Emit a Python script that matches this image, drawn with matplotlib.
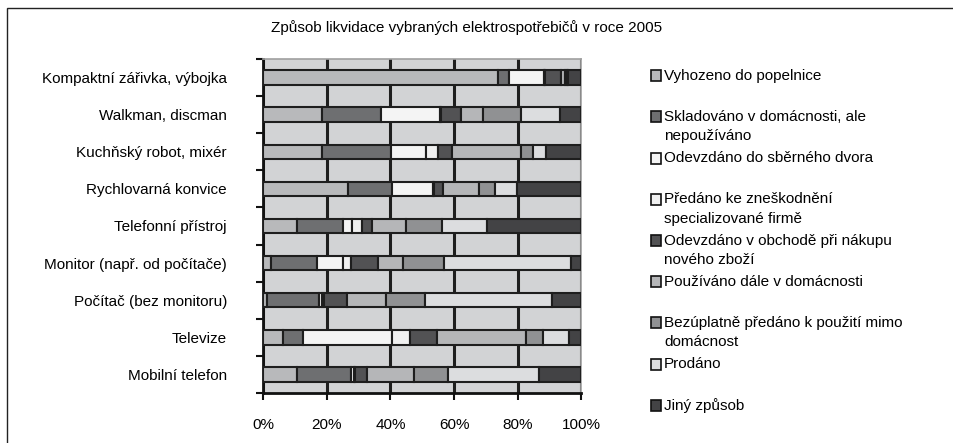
import numpy as np
import matplotlib
matplotlib.use('Agg')
import matplotlib.pyplot as plt
from matplotlib.patches import Rectangle

plt.rcParams['font.family'] = ['Liberation Sans', 'DejaVu Sans']

# ------------------------------------------------------------------
# Data (percent of households per appliance)
# ------------------------------------------------------------------
kategorie = ['Kompaktní zářivka, výbojka', 'Walkman, discman', 'Kuchňský robot, mixér',
             'Rychlovarná konvice', 'Telefonní přístroj', 'Monitor (např. od počítače)',
             'Počítač (bez monitoru)', 'Televize', 'Mobilní telefon']

serie = ['Vyhozeno do popelnice',
         'Skladováno v domácnosti, ale\nnepoužíváno',
         'Odevzdáno do sběrného dvora',
         'Předáno ke zneškodnění\nspecializované firmě',
         'Odevzdáno v obchodě při nákupu\nnového zboží',
         'Používáno dále v domácnosti',
         'Bezúplatně předáno k použití mimo\ndomácnost',
         'Prodáno',
         'Jiný způsob']

vyhozeno    = [73.8, 18.5, 18.5, 26.8, 10.6, 2.6, 1.4, 6.4, 10.6]
skladovano  = [3.4, 18.7, 21.7, 13.7, 14.4, 14.5, 16.2, 6.3, 17.0]
sberny_dvur = [10.9, 18.5, 11.0, 13.0, 3.1, 8.1, 1.0, 27.7, 1.0]
zneskodneni = [0.3, 0.3, 3.7, 0.3, 2.9, 2.4, 0.6, 5.6, 0.4]
obchod      = [5.3, 6.2, 4.5, 2.6, 3.1, 8.4, 7.3, 8.7, 3.5]
pouzivano   = [1.0, 6.8, 21.7, 11.3, 10.9, 7.9, 12.1, 28.0, 14.8]
bezuplatne  = [0.8, 12.1, 3.7, 5.0, 11.2, 12.9, 12.3, 5.2, 10.7]
prodano     = [0.3, 12.1, 3.9, 7.0, 14.1, 39.8, 39.8, 8.1, 28.7]
jiny        = [4.2, 6.8, 11.3, 20.3, 29.7, 3.4, 9.3, 4.0, 13.3]

hodnoty = [vyhozeno, skladovano, sberny_dvur, zneskodneni, obchod,
           pouzivano, bezuplatne, prodano, jiny]
barvy = ['#b8b9bb', '#6e6f71', '#f4f4f4', '#f0f0f0', '#525254',
         '#b5b6b8', '#909193', '#dcdddf', '#434345']

# ------------------------------------------------------------------
# Figure
# ------------------------------------------------------------------
W, H = 954, 443
fig = plt.figure(figsize=(W / 100, H / 100), dpi=100)
fig.patch.set_facecolor('white')

# outer chart border (top and left visible)
fig.add_artist(Rectangle((7.5 / W, -0.05), 1.1, 1.05 - 7.7 / H, transform=fig.transFigure,
                         fill=False, edgecolor='#222222', linewidth=1.0))

ax = fig.add_axes([263 / W, 1 - 392.7 / H, 318.5 / W, (392.7 - 59.3) / H])
ax.set_facecolor('#d2d3d5')

y = np.arange(len(kategorie))
levo = np.zeros(len(kategorie))
for vals, col in zip(hodnoty, barvy):
    x = np.array(vals) / 100.0
    ax.barh(y, x, left=levo, height=0.4, color=col, edgecolor='#1e1e1e', linewidth=1.5, zorder=3)
    levo += x

ax.set_xlim(0, 1)
ax.set_ylim(len(kategorie) - 0.5, -0.5)

ax.set_xticks(np.arange(0, 1.01, 0.2))
ax.set_xticklabels([f'{int(round(v * 100))}%' for v in np.arange(0, 1.01, 0.2)], fontsize=11)
ax.tick_params(axis='x', direction='out', length=5, width=1.5, pad=13, color='#111111')

ax.set_yticks(y)
ax.set_yticklabels(kategorie, fontsize=11)
ax.set_yticks(np.arange(-0.5, len(kategorie)), minor=True)
ax.tick_params(axis='y', which='major', length=0, pad=26)
ax.tick_params(axis='y', which='minor', direction='out', length=5, width=1.5, color='#111111')

ax.xaxis.grid(True, color='#1e1e1e', linewidth=2.2)
ax.set_axisbelow(True)

for s in ['left', 'bottom']:
    ax.spines[s].set_linewidth(2.0)
    ax.spines[s].set_color('#111111')
for s in ['top', 'right']:
    ax.spines[s].set_linewidth(1.2)
    ax.spines[s].set_color('#a0a0a0')

# title
fig.text(467 / W, 1 - 28 / H, 'Způsob likvidace vybraných elektrospotřebičů v roce 2005',
         ha='center', va='center', fontsize=11)

# legend (Excel-like, equal slots)
leg_y0 = 75.7
leg_dy = 41.2
for i, (nazev, col) in enumerate(zip(serie, barvy)):
    yc = leg_y0 + i * leg_dy
    fig.add_artist(Rectangle((651 / W, 1 - (yc + 5.5) / H), 10.5 / W, 11 / H,
                             transform=fig.transFigure, facecolor=col,
                             edgecolor='#111111', linewidth=1.2))
    fig.text(664 / W, 1 - (yc - 7) / H, nazev, ha='left', va='top', fontsize=11,
             linespacing=1.5)

fig.savefig('out.png', dpi=100)
